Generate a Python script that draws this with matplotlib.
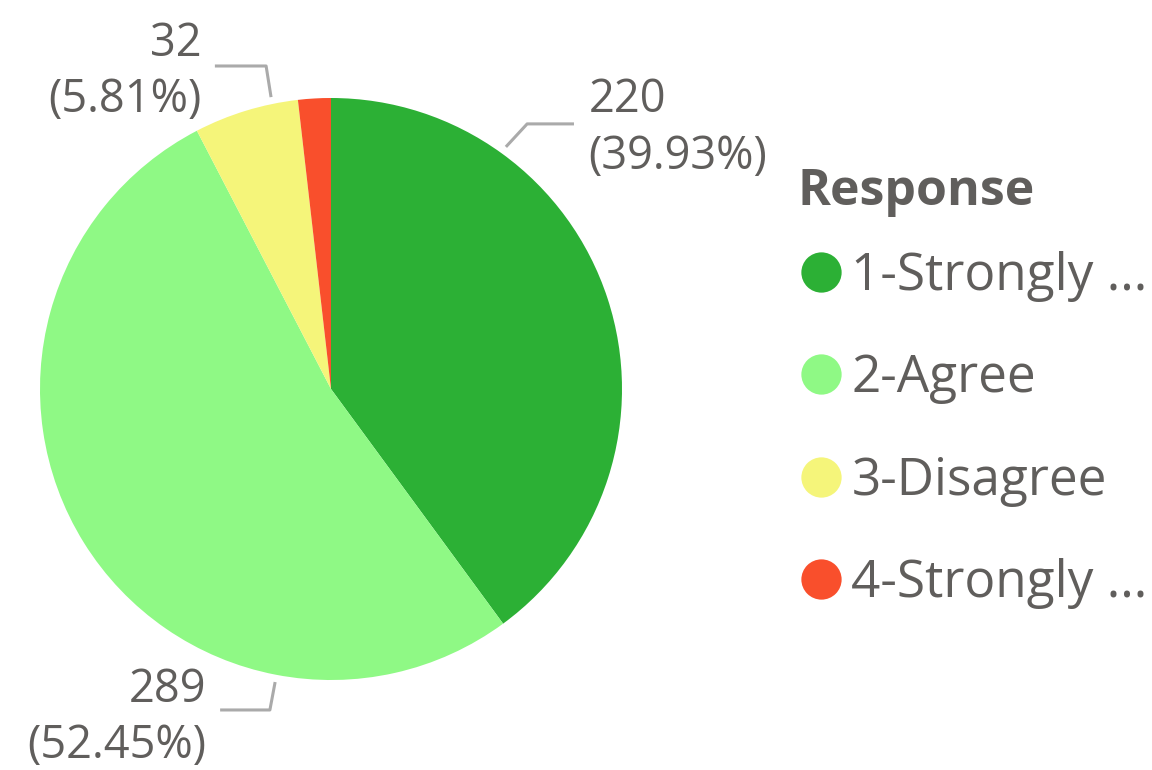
import numpy as np
import matplotlib
matplotlib.use("Agg")
import matplotlib.pyplot as plt
from matplotlib.lines import Line2D

# data
responses = ["1-Strongly ...", "2-Agree", "3-Disagree", "4-Strongly ..."]
counts = [220, 289, 32, 10]
colors = ["#2CB035", "#8FF985", "#F5F57A", "#F94F2C"]
shown = [True, True, True, False]

plt.rcParams['font.family'] = ['Open Sans', 'DejaVu Sans']
text_col = "#605E5C"
line_col = "#AAAAAA"

W, H = 1152, 770
fig = plt.figure(figsize=(W / 100, H / 100), dpi=100)

# pie center (331,389) px, radius 291 px
cx, cy, r = 331, 389, 291
ax = fig.add_axes([(cx - r) / W, (H - cy - r) / H, 2 * r / W, 2 * r / H])

wedges, _ = ax.pie(counts, colors=colors, startangle=90, counterclock=False,
                   radius=1, wedgeprops=dict(linewidth=0))
ax.set_xlim(-1, 1)
ax.set_ylim(-1, 1)
ax.axis("off")

total = sum(counts)

# label layout (data coords): leader path and text anchor
layout = [
    dict(path=[(0.601, 0.832), (0.674, 0.911), (0.835, 0.911)], xy=(0.885, 0.895), ha="left"),
    dict(path=[(-0.192, -1.007), (-0.210, -1.103), (-0.381, -1.103)], xy=(-0.428, -1.131), ha="right"),
    dict(path=[(-0.206, 1.003), (-0.223, 1.110), (-0.399, 1.110)], xy=(-0.445, 1.089), ha="right"),
    None,
]

for i, (c, lay) in enumerate(zip(counts, layout)):
    if not shown[i] or lay is None:
        continue
    px, py = zip(*lay["path"])
    ax.plot(px, py, color=line_col, lw=2.2, clip_on=False, solid_capstyle="butt")
    pct = 100.0 * c / total
    ax.text(lay["xy"][0], lay["xy"][1], "%d\n(%.2f%%)" % (c, pct),
            ha=lay["ha"], va="center", multialignment=lay["ha"],
            fontsize=32.5, color=text_col, linespacing=1.3, clip_on=False)

# legend title drawn separately so its gap to the rows can be set
fig.text(797 / W, 1 - 192 / H, "Response", ha="left", va="center",
         fontsize=36, fontweight="bold", color=text_col)

handles = [Line2D([], [], linestyle="none", marker="o", markersize=29,
                  markerfacecolor=col, markeredgewidth=0) for col in colors]
leg = fig.legend(handles, responses, loc="center left",
                 bbox_to_anchor=(800 / W, 1 - 430 / H), frameon=False,
                 fontsize=37, handlelength=0.8,
                 handletextpad=0.2, labelspacing=1.0, borderpad=0,
                 borderaxespad=0)
for t in leg.get_texts():
    t.set_color(text_col)

fig.savefig("out.png", dpi=100)
